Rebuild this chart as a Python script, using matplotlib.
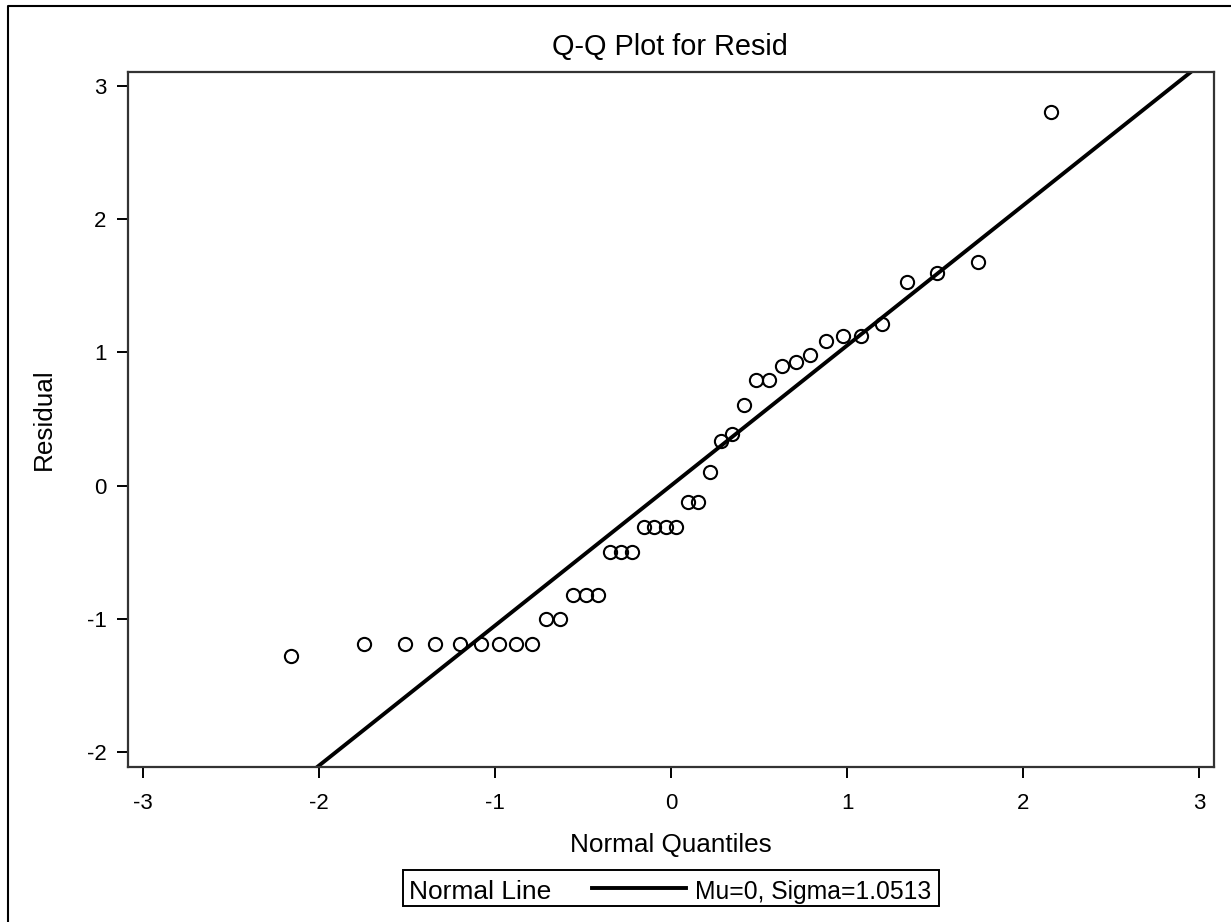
import matplotlib
matplotlib.use("Agg")
import matplotlib.pyplot as plt
from matplotlib.lines import Line2D
from matplotlib.patches import Rectangle
import numpy as np

plt.rcParams['font.family'] = ['Liberation Sans', 'DejaVu Sans']

# Normal quantiles (x) and residuals (y)
normal_quantiles = [-2.157, -1.746, -1.512, -1.340, -1.201, -1.082, -0.976, -0.880,
                    -0.792, -0.709, -0.631, -0.557, -0.485, -0.416, -0.349, -0.284,
                    -0.220, -0.156, -0.094, -0.031, 0.031, 0.094, 0.156, 0.220,
                    0.284, 0.349, 0.416, 0.485, 0.557, 0.631, 0.709, 0.792,
                    0.880, 0.976, 1.082, 1.201, 1.340, 1.512, 1.746, 2.157]
residuals = [-1.283, -1.189, -1.189, -1.189, -1.189, -1.189, -1.189, -1.189,
             -1.189, -1.004, -1.004, -0.821, -0.821, -0.821, -0.496, -0.496,
             -0.496, -0.311, -0.311, -0.311, -0.311, -0.123, -0.123, 0.102,
             0.335, 0.390, 0.607, 0.793, 0.793, 0.898, 0.925, 0.983,
             1.083, 1.121, 1.121, 1.213, 1.526, 1.594, 1.676, 2.805]
mu = 0.0
sigma = 1.0513

x_ticks = [-3, -2, -1, 0, 1, 2, 3]
y_ticks = [-2, -1, 0, 1, 2, 3]

W, H = 1231, 922
fig = plt.figure(figsize=(W / 100, H / 100), dpi=100)

def fx(px):
    return px / W

def fy(py):
    return 1 - py / H

left, right, top, bottom = 128, 1214, 72, 767
ax = fig.add_axes([fx(left), fy(bottom), fx(right - left), (bottom - top) / H])

xlim = (-3.085, 3.085)
ylim = (-2.113, 3.105)
ax.set_xlim(*xlim)
ax.set_ylim(*ylim)

xl = np.array(xlim)
ax.plot(xl, mu + sigma * xl, color='black', lw=2.8, zorder=2)
ax.plot(normal_quantiles, residuals, linestyle='none', marker='o', markersize=9.5,
        markerfacecolor='none', markeredgecolor='black', markeredgewidth=1.5, zorder=3)

ax.set_xticks(x_ticks)
ax.set_yticks(y_ticks)
ax.set_xticklabels([str(v) for v in x_ticks])
ax.set_yticklabels([str(v) for v in y_ticks])
ax.tick_params(axis='both', direction='out', length=8, width=1.4, colors='black',
               labelsize=16)
ax.tick_params(axis='x', pad=11)
ax.tick_params(axis='y', pad=7.5)
for s in ax.spines.values():
    s.set_linewidth(1.6)
    s.set_color('#333333')

fig.text(fx(670), fy(55), 'Q-Q Plot for Resid', ha='center', va='baseline', fontsize=20.8)
fig.text(fx(671), fy(852), 'Normal Quantiles', ha='center', va='baseline', fontsize=18.8)
fig.text(fx(44), fy(419), 'Residual', ha='center', va='center', rotation=90, fontsize=18.8)

# legend box
fig.patches.append(Rectangle((fx(403), fy(906)), fx(939 - 403), (906 - 870) / H,
                             transform=fig.transFigure, fill=False, edgecolor='black',
                             linewidth=1.4))
fig.text(fx(409), fy(899), 'Normal Line', ha='left', va='baseline', fontsize=19)
fig.lines.append(Line2D([fx(592), fx(686)], [fy(888), fy(888)], transform=fig.transFigure,
                        color='black', lw=2.8))
fig.text(fx(695), fy(899), 'Mu=0, Sigma=1.0513', ha='left', va='baseline', fontsize=17.8)

# outer border (left and top edges visible)
fig.lines.append(Line2D([fx(8), fx(8), 1.0], [0.0, fy(6), fy(6)], transform=fig.transFigure,
                        color='black', lw=1.5))

fig.savefig('out.png', dpi=100)
